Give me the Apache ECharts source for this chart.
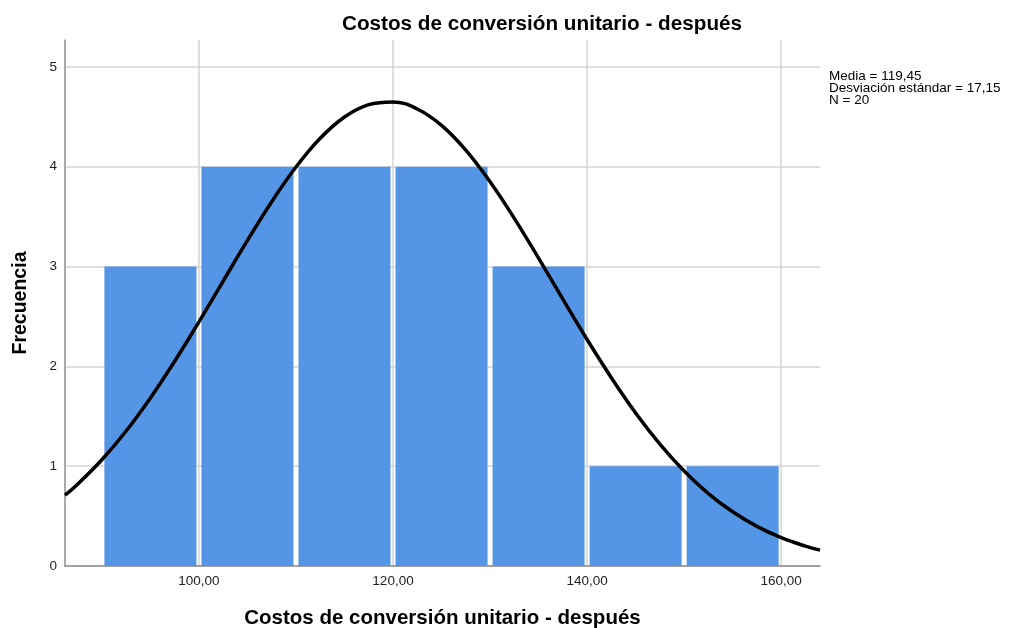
<!DOCTYPE html>
<html>
<head>
<meta charset="utf-8">
<script src="https://cdn.jsdelivr.net/npm/echarts@6/dist/echarts.min.js"></script>
<style>
  html, body { margin: 0; padding: 0; background: #fff; }
  #chart { width: 1012px; height: 628px; }
</style>
</head>
<body>
<div id="chart"></div>
<script>
  // intervalos del histograma (inicio, fin) y frecuencias
  var binStarts = [90, 100, 110, 120, 130, 140, 150];
  var binEnds = [100, 110, 120, 130, 140, 150, 160];
  var frecuencias = [3, 4, 4, 4, 3, 1, 1];

  // curva normal
  var curvaX = [86.2, 87.5, 90, 92.5, 95, 97.5, 100, 102.5, 105, 107.5, 110, 112.5, 115, 117.5, 120,
                122.5, 125, 127.5, 130, 132.5, 135, 137.5, 140, 142.5, 145, 147.5, 150, 152.5, 155, 157.5, 160, 162.5, 164];
  var curvaY = [0.71, 0.82, 1.065, 1.353, 1.684, 2.051, 2.446, 2.855, 3.262, 3.65, 3.997, 4.285, 4.498, 4.622, 4.65,
                4.579, 4.415, 4.167, 3.85, 3.483, 3.084, 2.674, 2.269, 1.886, 1.533, 1.221, 0.952, 0.726, 0.543, 0.397, 0.284, 0.199, 0.159];

  var xTicks = [100, 120, 140, 160];
  var yTicks = [0, 1, 2, 3, 4, 5];

  var fuente = '"Liberation Sans", Arial, sans-serif';

  var barras = binStarts.map(function (s, i) {
    return [s, binEnds[i], frecuencias[i]];
  });
  var curva = curvaX.map(function (x, i) {
    return [x, curvaY[i]];
  });

  var myChart = echarts.init(document.getElementById('chart'));
  myChart.setOption({
    animation: false,
    title: {
      text: 'Costos de conversión unitario - después',
      left: 337,
      top: 9,
      textStyle: { fontFamily: fuente, fontSize: 20.7, fontWeight: 'bold', color: '#000' }
    },
    grid: { left: 65, right: 192, top: 40, bottom: 62, outerBoundsMode: 'none' },
    xAxis: {
      type: 'value',
      min: 86.2,
      max: 164,
      name: 'Costos de conversión unitario - después',
      nameLocation: 'middle',
      nameGap: 42,
      nameTextStyle: { fontFamily: fuente, fontSize: 20.5, fontWeight: 'bold', color: '#000' },
      axisLine: { show: true, lineStyle: { color: '#8c8c8c', width: 1.5 } },
      axisTick: { show: false, customValues: xTicks },
      axisLabel: {
        customValues: xTicks,
        margin: 8,
        fontFamily: fuente, fontSize: 13.5, color: '#222',
        formatter: function (v) { return v.toFixed(2).replace('.', ','); }
      },
      splitLine: { show: true, lineStyle: { color: '#d4d4d4', width: 1.5 } }
    },
    yAxis: {
      type: 'value',
      min: 0,
      max: 5.27,
      name: 'Frecuencia',
      nameLocation: 'middle',
      nameGap: 34,
      nameTextStyle: { fontFamily: fuente, fontSize: 19.5, fontWeight: 'bold', color: '#000' },
      axisLine: { show: true, lineStyle: { color: '#8c8c8c', width: 1.5 } },
      axisTick: { show: false, customValues: yTicks },
      axisLabel: { customValues: yTicks, margin: 8, fontFamily: fuente, fontSize: 13.5, color: '#222' },
      splitLine: { show: true, lineStyle: { color: '#d4d4d4', width: 1.5 } }
    },
    graphic: [{
      type: 'text',
      left: 829,
      top: 69,
      style: {
        text: 'Media = 119,45\nDesviación estándar = 17,15\nN = 20',
        font: '13.5px "Liberation Sans", Arial, sans-serif',
        lineHeight: 12,
        fill: '#000'
      }
    }],
    series: [
      {
        type: 'custom',
        data: barras,
        encode: { x: [0, 1], y: 2 },
        renderItem: function (params, api) {
          var p0 = api.coord([api.value(0), 0]);
          var p1 = api.coord([api.value(1), api.value(2)]);
          return {
            type: 'rect',
            shape: { x: p0[0] + 2.5, y: p1[1], width: p1[0] - p0[0] - 5, height: p0[1] - p1[1] },
            style: { fill: '#5595e5' }
          };
        }
      },
      {
        type: 'line',
        data: curva,
        smooth: 0.4,
        symbol: 'none',
        lineStyle: { color: '#000', width: 3.5 },
        z: 5
      }
    ]
  });
</script>
</body>
</html>
